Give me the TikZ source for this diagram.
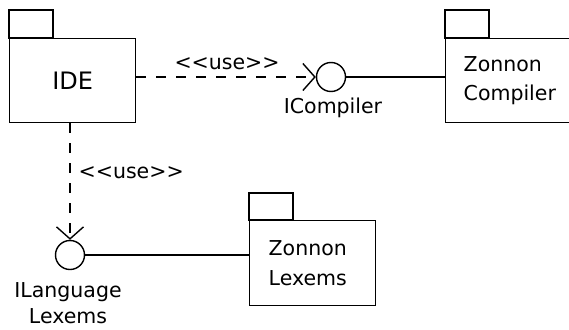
\documentclass[tikz,border=0pt]{standalone}
\usepackage{fontspec}
\setmainfont{DejaVu Sans}
\usetikzlibrary{arrows.meta}
\begin{document}
\begin{tikzpicture}[x=1pt,y=-1pt,line width=1.4pt,
  pkgbody/.style={draw, rectangle, inner sep=0pt, anchor=north west},
  pkglabel/.style={anchor=west, align=left, inner sep=0pt, font=\fontsize{20.5}{29.5}\selectfont},
  iface/.style={draw, circle, minimum size=29pt, inner sep=0pt},
  usedep/.style={dash pattern=on 10pt off 10pt, -{Straight Barb[length=12pt,width=27pt,line width=1.4pt]}},
  txt/.style={font=\fontsize{20.5}{26}\selectfont, inner sep=0pt}]
\useasboundingbox (0,0) rectangle (569,329);
% IDE package
\node[pkgbody, minimum width=126pt, minimum height=84pt, font=\fontsize{24}{28}\selectfont] (ide) at (9,38) {IDE};
\draw (ide.north west) rectangle ++(44,-28);
% ICompiler interface
\node[iface] (icomp) at (331,77) {};
\node[txt, anchor=base] (icl) at (333,113) {ICompiler};
% Zonnon Compiler package
\node[pkgbody, minimum width=125pt, minimum height=84pt] (zc) at (445,38) {};
\draw (zc.north west) rectangle ++(44,-28);
\node[pkglabel] (zct) at ([xshift=18pt]zc.west) {Zonnon\\Compiler};
% connectors top
\draw[usedep] (ide.east |- icomp.west) -- (icomp.west);
\node[txt] (use1) at (227,64) {{<}{<}use{>}{>}};
\draw (icomp.east) -- (zc.west |- icomp.east);
% ILanguageLexems interface
\node[iface] (ilang) at (70,255) {};
\node[txt, align=center, anchor=north] (ill) at (68,282) {ILanguage\\Lexems};
\draw[usedep] (ilang.north |- ide.south) -- (ilang.north);
\node[txt, anchor=west] (use2) at (78,173) {{<}{<}use{>}{>}};
% Zonnon Lexems package
\node[pkgbody, minimum width=126pt, minimum height=85pt] (zl) at (249,220) {};
\draw (zl.north west) rectangle ++(44,-27);
\node[pkglabel] (zlt) at ([xshift=19pt]zl.west) {Zonnon\\Lexems};
\draw (ilang.east) -- (zl.west |- ilang.east);
\end{tikzpicture}
\end{document}
